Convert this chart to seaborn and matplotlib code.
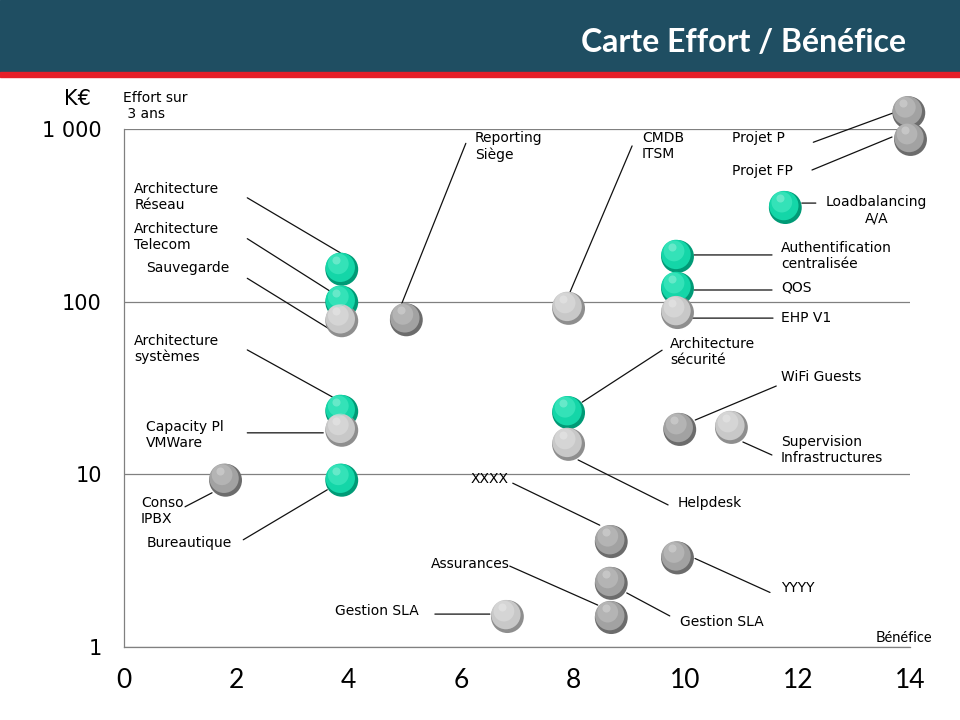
import numpy as np
import pandas as pd
import matplotlib
matplotlib.use("Agg")
import matplotlib.pyplot as plt
import matplotlib.transforms as mtransforms
from matplotlib.patches import Rectangle
import seaborn as sns

# -------------------- DATA --------------------
libelles = [
    "Architecture\nRéseau", "Architecture\nTelecom", "Sauvegarde", "Reporting\nSiège",
    "CMDB\nITSM", "Projet P", "Projet FP", "Loadbalancing\nA/A",
    "Authentification\ncentralisée", "QOS", "EHP V1", "Architecture\nsystèmes",
    "Architecture\nsécurité", "WiFi Guests", "Supervision\nInfrastructures", "Capacity Pl\nVMWare",
    "Conso\nIPBX", "Bureautique", "Helpdesk", "XXXX",
    "YYYY", "Assurances", "Gestion SLA", "Gestion SLA",
]
benefice = [3.87, 3.87, 3.87, 5.02, 7.91, 13.97, 14.0, 11.77,
            9.85, 9.85, 9.85, 3.87, 7.91, 9.89, 10.81, 3.87,
            1.80, 3.87, 7.91, 8.67, 9.85, 8.67, 8.67, 6.82]
effort = [155, 100, 78, 79, 92, 1250, 875, 353,
          184, 120, 87, 23.3, 22.9, 18.3, 18.8, 18.1,
          9.3, 9.3, 15.0, 4.1, 3.3, 1.49, 2.35, 1.51]
categorie = ["vert", "vert", "clair", "fonce", "clair", "fonce", "fonce", "vert",
             "vert", "vert", "clair", "vert", "vert", "fonce", "clair", "clair",
             "fonce", "vert", "clair", "fonce", "fonce", "fonce", "fonce", "clair"]

y_ticks = [1, 10, 100, 1000]
y_ticklabels = ["1", "10", "100", "1 000"]
x_ticks = [0, 2, 4, 6, 8, 10, 12, 14]

df = pd.DataFrame({"libelle": libelles, "benefice": benefice,
                   "effort": effort, "categorie": categorie})

# -------------------- LAYOUT (pixel offsets from bubble, y down) --------------------
# text (dx, dy), line start (dx, dy), line end (dx, dy)
placement = [
    ((-207, -72), (-94, -71), (-1, -16)),
    ((-207, -65), (-94, -63), (-12, -11)),
    ((-195, -52), (-94, -42), (-13, 8)),
    ((69, -173), (60, -176), (-4, -16)),
    ((74, -162), (64, -162), (2, -16)),
    ((-176, 26), (-95, 30), (-16, 1)),
    ((-178, 32), (-98, 31), (-18, -2)),
    ((41, 3), (17, -4), (31, -4)),
    ((104, 0), (17, -1), (95, -1)),
    ((104, 0), (17, 2), (95, 2)),
    ((104, 6), (14, 6), (96, 6)),
    ((-207, -62), (-94, -61), (-9, -14)),
    ((102, -60), (94, -62), (14, -10)),
    ((102, -52), (97, -43), (16, -9)),
    ((50, 23), (41, 28), (12, 15)),
    ((-195, 5), (-94, 3), (-18, 3)),
    ((-84, 31), (-40, 27), (-13, 13)),
    ((-195, 63), (-98, 60), (-14, 10)),
    ((110, 59), (100, 61), (10, 16)),
    ((-140, -62), (-98, -58), (-11, -16)),
    ((104, 31), (93, 35), (18, 1)),
    ((-180, -53), (-101, -51), (-13, -12)),
    ((69, 39), (59, 33), (16, 10)),
    ((-172, -5), (-72, -2), (-17, -2)),
]

couleur_bord = {"vert": "#009a76", "clair": "#8e8e8e", "fonce": "#6c6c6c"}
couleur_corps = {"vert": "#14d6a8", "clair": "#c8c8c8", "fonce": "#a2a2a2"}
couleur_reflet = {"vert": "#55efc8", "clair": "#e2e2e2", "fonce": "#c6c6c6"}

sns.set_style("white")
plt.rcParams["font.family"] = ["DejaVu Sans"]
plt.rcParams["text.color"] = "black"
plt.rcParams["xtick.labelcolor"] = "black"
plt.rcParams["ytick.labelcolor"] = "black"

fig = plt.figure(figsize=(9.6, 7.2), dpi=100)
ax = fig.add_axes([124 / 960, 1 - 647 / 720, 786 / 960, 518 / 720])

# header band
fig.patches.append(Rectangle((0, 1 - 72 / 720), 1, 72 / 720, transform=fig.transFigure,
                             color="#1f4e62", zorder=0))
fig.patches.append(Rectangle((0, 1 - 77 / 720), 1, 5 / 720, transform=fig.transFigure,
                             color="#e61e28", zorder=0))
fig.text(906 / 960, 1 - 42 / 720, "Carte Effort / Bénéfice", ha="right", va="center",
         color="white", fontsize=23, fontweight="bold", family="Lato")

# axes first, so the data transform is final
ax.set_yscale("log")
ax.set_xlim(0, 14)
ax.set_ylim(1, 1000)


def decale(dx, dy):
    return mtransforms.offset_copy(ax.transData, fig=fig, x=dx, y=dy, units="dots")


S = 560
# rim / shadow
ax.scatter(df["benefice"], df["effort"], s=S, c=[couleur_bord[c] for c in categorie],
           linewidths=0, zorder=3, clip_on=False, transform=decale(0.5, -0.5))
# body
sns.scatterplot(data=df, x="benefice", y="effort", hue="categorie", palette=couleur_corps,
                s=S * 0.80, linewidth=0, legend=False, ax=ax, zorder=4, clip_on=False,
                transform=decale(-1, 1.5))
# highlights
ax.scatter(df["benefice"], df["effort"], s=S * 0.40, c=[couleur_reflet[c] for c in categorie],
           linewidths=0, alpha=0.5, zorder=5, clip_on=False, transform=decale(-3, 5))
ax.scatter(df["benefice"], df["effort"], s=S * 0.06, c="white",
           linewidths=0, alpha=0.25, zorder=6, clip_on=False, transform=decale(-5, 9))

# labels and leader lines
for i, ((tdx, tdy), (adx, ady), (bdx, bdy)) in enumerate(placement):
    x, y = benefice[i], effort[i]
    ax.annotate("", xy=(x, y), xycoords=decale(bdx, -bdy),
                xytext=(x, y), textcoords=decale(adx, -ady),
                arrowprops=dict(arrowstyle="-", color="#111111", lw=0.9,
                                shrinkA=0, shrinkB=0),
                annotation_clip=False, zorder=2)
    ax.annotate(libelles[i], xy=(x, y), xytext=(tdx, -tdy), textcoords="offset pixels",
                ha="left", va="center", fontsize=10, color="black",
                multialignment="center" if i == 7 else "left",
                annotation_clip=False, zorder=7)

# axes styling
ax.set_yticks(y_ticks)
ax.set_yticklabels(y_ticklabels)
ax.yaxis.set_minor_locator(matplotlib.ticker.NullLocator())
ax.set_xticks(x_ticks)
ax.set_xticklabels([str(t) for t in x_ticks], family="Lato")
ax.tick_params(axis="y", which="major", length=5, width=0.8, color="#808080",
               direction="out", pad=11, labelsize=15, labelcolor="black")
ax.tick_params(axis="x", which="major", length=5, width=0.8, color="#808080",
               direction="out", pad=10, labelsize=19, labelcolor="black")
ax.set_xlabel("")
ax.set_ylabel("")
ax.yaxis.grid(True, color="#808080", lw=0.9)
ax.set_axisbelow(True)
for side in ["top", "right"]:
    ax.spines[side].set_visible(False)
for side in ["left", "bottom"]:
    ax.spines[side].set_color("#808080")
    ax.spines[side].set_linewidth(0.9)

fig.text(77 / 960, 1 - 99 / 720, "K€", ha="center", va="center", fontsize=15, color="black")
fig.text(123 / 960, 1 - 106 / 720, "Effort sur\n 3 ans", ha="left", va="center",
         fontsize=10, color="black")
fig.text(932 / 960, 1 - 638 / 720, "Bénéfice", ha="right", va="center", fontsize=10.5,
         family="Lato", color="black")

fig.savefig("out.png", dpi=100)
